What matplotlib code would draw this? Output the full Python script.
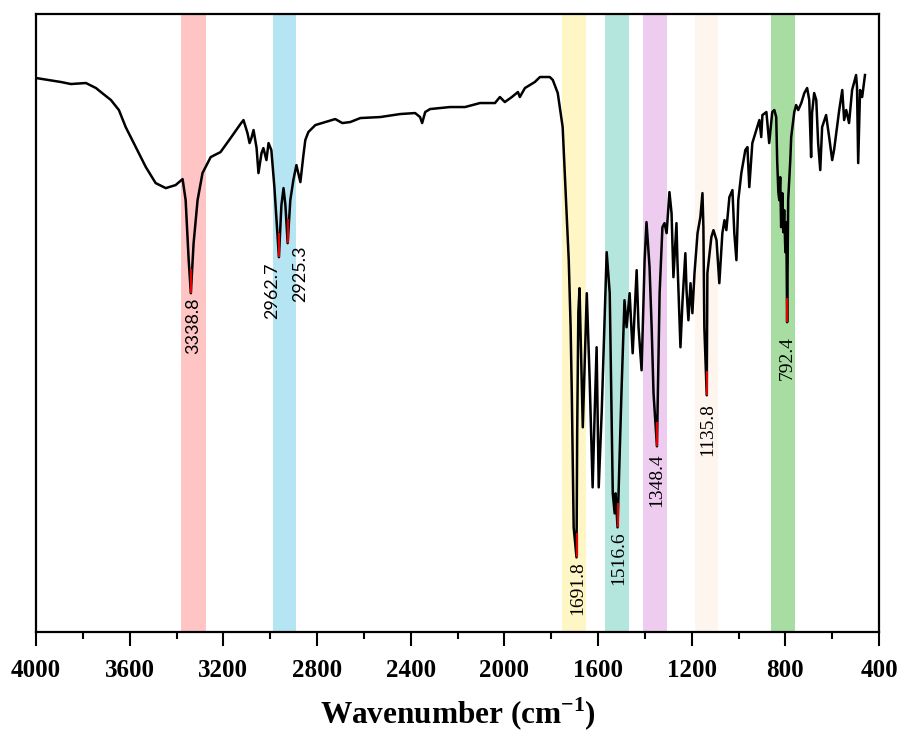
import numpy as np
import matplotlib as mpl
mpl.use('Agg')
import matplotlib.pyplot as plt
from matplotlib.ticker import MultipleLocator

# FTIR spectrum: wavenumber (cm-1) vs transmittance (a.u.)
wavenumber = [4000, 3945, 3893, 3851, 3787, 3744, 3723, 3680, 3646, 3617, 3574, 3531, 3489, 3446,
              3404, 3374, 3361, 3348, 3338.8, 3327, 3310, 3289, 3254, 3212, 3169, 3127, 3114, 3097,
              3088, 3080, 3071, 3058, 3050, 3037, 3029, 3016, 3007, 2995, 2982, 2973, 2962.7, 2952,
              2943, 2935, 2925.3, 2914, 2901, 2888, 2871, 2858, 2850, 2837, 2807, 2764, 2722, 2692,
              2658, 2615, 2530, 2445, 2381, 2360, 2351, 2338, 2317, 2232, 2168, 2104, 2040, 2019,
              1998, 1968, 1942, 1934, 1912, 1870, 1848, 1806, 1793, 1772, 1751, 1738, 1725, 1717,
              1712, 1708, 1704, 1691.8, 1689, 1684, 1679, 1665, 1648, 1636, 1623, 1614, 1606, 1597,
              1584, 1563, 1550, 1537, 1529, 1525, 1516.6, 1500, 1487, 1478, 1465, 1452, 1435, 1427,
              1414, 1401, 1393, 1380, 1371, 1363, 1348.4, 1337, 1325, 1316, 1307, 1295, 1286, 1278,
              1265, 1261, 1248, 1239, 1227, 1222, 1214, 1205, 1197, 1188, 1175, 1163, 1154, 1150,
              1146, 1135.8, 1133, 1116, 1107, 1094, 1082, 1069, 1060, 1052, 1039, 1026, 1018, 1009,
              1001, 988, 971, 962, 954, 941, 924, 911, 903, 898, 881, 869, 856, 847, 839, 835, 830,
              826, 822, 818, 815, 813, 809, 805, 800, 796, 792.4, 788, 779, 775, 762, 754, 745, 732,
              719, 707, 698, 690, 686, 677, 668, 660, 651, 643, 626, 613, 600, 592, 570, 557, 549,
              540, 528, 515, 498, 494, 489, 481, 472, 460]
transmittance = [554, 552, 550, 548, 549, 544, 540, 532, 522, 505, 485, 465, 449, 444,
                 447, 453, 432, 372, 339, 389, 432, 459, 475, 480, 494, 508, 512, 499,
                 489, 494, 502, 484, 459, 479, 484, 472, 489, 482, 445, 412, 375, 427,
                 444, 427, 389, 432, 452, 467, 450, 477, 492, 500, 507, 510, 513, 509,
                 510, 514, 515, 518, 519, 515, 509, 520, 523, 525, 525, 529, 529, 535,
                 530, 535, 540, 535, 544, 550, 555, 555, 552, 539, 505, 439, 372, 305,
                 239, 172, 105, 75, 200, 320, 344, 205, 339, 255, 145, 222, 285, 145,
                 222, 380, 339, 139, 119, 139, 105, 239, 332, 305, 339, 279, 362, 305,
                 262, 372, 410, 365, 305, 239, 186, 339, 405, 409, 399, 440, 419, 355,
                 409, 372, 285, 332, 379, 342, 312, 349, 319, 359, 399, 415, 439, 405,
                 305, 237, 359, 395, 402, 392, 349, 399, 412, 402, 435, 442, 399, 372,
                 432, 459, 482, 485, 445, 489, 502, 512, 495, 517, 520, 489, 520, 522, 515, 472, 440,
                 432, 455, 405, 425, 439, 400, 422, 380, 410, 310, 432, 472, 495, 520, 527, 522, 529,
                 539, 544, 532, 475, 519, 539, 532, 489, 462, 505, 517, 495, 472, 482, 522, 542, 512,
                 522, 509, 542, 557, 545, 469, 542, 535, 557]

# shaded bands (cm-1)
band_hi = [3380, 2990, 1755, 1571, 1409, 1184, 860]
band_lo = [3276, 2888, 1652, 1469, 1307, 1086, 757]
band_colors = ['#FFC4C4', '#B5E4F3', '#FFF6C6', '#B5E6DD', '#EDCCEF', '#FFF5EF', '#A8DDA2']

# labelled peaks
peak_wn = [3338.8, 2962.7, 2925.3, 1691.8, 1516.6, 1348.4, 1135.8, 792.4]
peak_t = [339, 375, 389, 75, 105, 186, 237, 310]
peak_labels = ['3338.8', '2962.7', '2925.3', '1691.8', '1516.6', '1348.4', '1135.8', '792.4']
label_dx = [2, -5, 9, 1, 1, 0, 1, 0]          # points
label_dy = [-3, -4, -2, -3, -3, -5, -6, -10]  # points
label_font = ['Lato', 'Lato', 'Lato'] + ['Liberation Serif'] * 5

fig = plt.figure(figsize=(9, 7.35), dpi=100)
ax = fig.add_axes([0.04, 0.1395, 0.9367, 0.8415])

for hi, lo, c in zip(band_hi, band_lo, band_colors):
    ax.axvspan(lo, hi, color=c, lw=0, zorder=0)

ax.plot(wavenumber, transmittance, color='black', lw=1.8, zorder=3)
ax.vlines(peak_wn, peak_t, np.array(peak_t) + 24, color='#E00000', lw=1.6, zorder=4)

for x, t, s, dx, dy, fam in zip(peak_wn, peak_t, peak_labels, label_dx, label_dy, label_font):
    ax.annotate(s, (x, t), xytext=(dx, dy), textcoords='offset points', rotation=90,
                ha='center', va='top', fontsize=14 if fam != 'Lato' else 13,
                family=fam, zorder=5)

ax.set_xlim(4000, 400)
ax.set_ylim(0, 618)
ax.set_yticks([])
ax.xaxis.set_major_locator(MultipleLocator(400))
ax.xaxis.set_minor_locator(MultipleLocator(200))
ax.tick_params(axis='x', which='major', direction='out', length=10, width=1.5, pad=9)
ax.tick_params(axis='x', which='minor', direction='out', length=5, width=1.5)
for lab in ax.get_xticklabels():
    lab.set_fontfamily('Liberation Serif')
    lab.set_fontweight('bold')
    lab.set_fontsize(18)
for sp in ax.spines.values():
    sp.set_linewidth(1.6)

ax.set_xlabel('Wavenumber (cm$^{\\mathregular{-1}}$)', fontsize=22.5, fontweight='bold',
              family='Liberation Serif', labelpad=10)

fig.savefig('out.png', dpi=100)
